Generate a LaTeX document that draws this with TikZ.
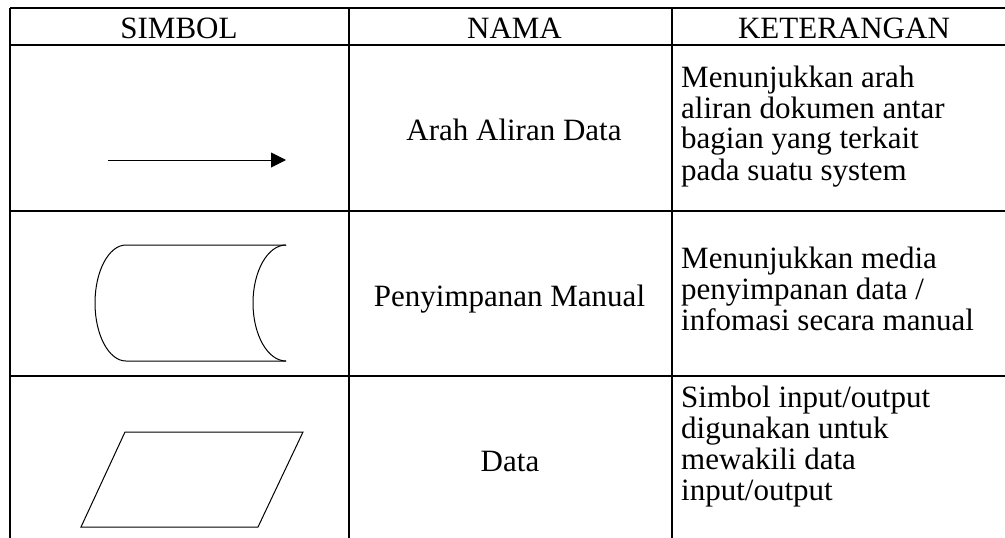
\documentclass[tikz,border=0pt]{standalone}
\usepackage{fontspec}
\setmainfont{Liberation Serif}
\usetikzlibrary{arrows.meta}
\begin{document}
\begin{tikzpicture}[x=1pt,y=-1pt,
  rule/.style={line width=2pt},
  sym/.style={line width=1pt},
  txt/.style={inner sep=0pt, font=\fontsize{31}{31}\selectfont},
  head/.style={txt, anchor=base},
  desc/.style={txt, anchor=base west}]
\useasboundingbox (0,0) rectangle (1005,538);
\clip (0,0) rectangle (1005,538);

% table rules
\draw[rule] (10,8) -- (1010,8);
\draw[rule] (10,45) -- (1010,45);
\draw[rule] (10,211) -- (1010,211);
\draw[rule] (10,376) -- (1010,376);
\draw[rule] (10,8) -- (10,545);
\draw[rule] (349,8) -- (349,545);
\draw[rule] (672,8) -- (672,545);

% header row
\node[head] (hsym) at (179,38) {SIMBOL};
\node[head] (hnama) at (514.5,38) {NAMA};
\node[head] (hket) at (844,38) {KETERANGAN};

% row 1: flow arrow
\coordinate (arrS) at (108,160);
\coordinate (arrE) at (286,160);
\draw[sym, -{Triangle[length=15pt,width=15pt]}] (arrS) -- (arrE);
\node[head] (n1) at (514,140) {Arah Aliran Data};
\node[desc] (k1) at (681,87) {\begin{tabular}[t]{@{}l@{}}Menunjukkan arah\\aliran dokumen antar\\bagian yang terkait\\pada suatu system\end{tabular}};

% row 2: manual storage
\draw[sym] (286,245) -- (126,245)
  .. controls (108.9,245) and (95,271) .. (95,303)
  .. controls (95,335) and (108.9,361) .. (126,361)
  -- (286,361);
\draw[sym] (286,245)
  .. controls (267.8,245) and (253,271) .. (253,303)
  .. controls (253,335) and (267.8,361) .. (286,361);
\node[head] (n2) at (509.5,306) {Penyimpanan Manual};
\node[desc] (k2) at (681,268) {\begin{tabular}[t]{@{}l@{}}Menunjukkan media\\penyimpanan data /\\infomasi secara manual\end{tabular}};

% row 3: data (input/output)
\draw[sym] (125,432) -- (303,432) -- (258,527) -- (81,527) -- cycle;
\node[head] (n3) at (510,471) {Data};
\node[desc] (k3) at (681,407) {\begin{tabular}[t]{@{}l@{}}Simbol input/output\\digunakan untuk\\mewakili data\\input/output\end{tabular}};
\end{tikzpicture}
\end{document}
